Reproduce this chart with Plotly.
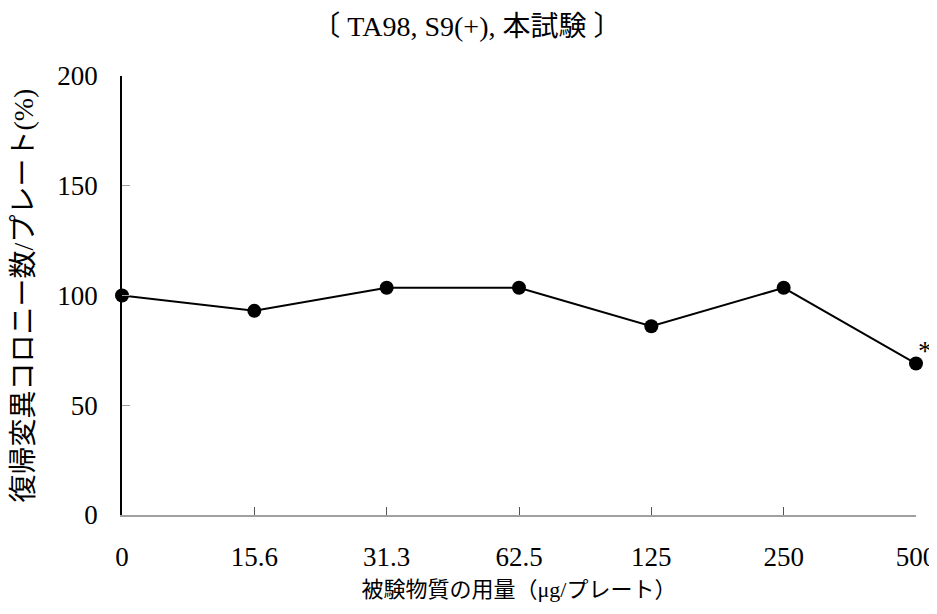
import plotly.graph_objects as go

doses = ["0", "15.6", "31.3", "62.5", "125", "250", "500"]
revertants_pct = [100, 93, 103.5, 103.5, 86, 103.5, 69]
significant = [False, False, False, False, False, False, True]
y_ticks = [0, 50, 100, 150, 200]

FONT = "Liberation Serif, Noto Sans CJK JP, serif"
xpos = list(range(len(doses)))

fig = go.Figure()
fig.add_trace(go.Scatter(
    x=xpos, y=revertants_pct, mode="lines+markers",
    line=dict(color="black", width=2),
    marker=dict(color="black", size=14),
    cliponaxis=False, showlegend=False,
))

for xi, v, s in zip(xpos, revertants_pct, significant):
    if s:
        fig.add_annotation(x=xi, y=v, text="*", showarrow=False,
                           xshift=9, yshift=13,
                           font=dict(family=FONT, size=28, color="black"))

# the page body has an 8px margin; size the figure so it fits without scrollbars
fig.update_layout(
    width=929, height=598,
    margin=dict(l=114, r=21, t=68, b=91),
    paper_bgcolor="white", plot_bgcolor="white",
    font=dict(family=FONT, size=27, color="black"),
    title=dict(text="〔 TA98, S9(+), 本試験 〕", x=0.494, xanchor="center",
               y=0.970, yanchor="middle", font=dict(size=28)),
)
fig.update_xaxes(
    range=[0, len(doses) - 1], tickvals=xpos, ticktext=doses, showgrid=False,
    showline=True, linecolor="#a0a0a0", linewidth=2,
    ticks="inside", ticklen=8, tickcolor="#555555", tickwidth=1,
    ticklabelstandoff=17, automargin=False, ticklabeloverflow="allow",
    title=dict(text="被験物質の用量（μg/プレート）", standoff=10, font=dict(size=22)),
    zeroline=False,
)
fig.update_yaxes(
    range=[0, 200], tickvals=y_ticks, showgrid=False,
    showline=True, linecolor="black", linewidth=1.5,
    ticks="inside", ticklen=8, tickcolor="#a0a0a0", tickwidth=1,
    ticklabelstandoff=17, automargin=False,
    title=dict(text="復帰変異コロニー数/プレート(%)", standoff=18, font=dict(size=28)),
    zeroline=False,
)

fig.write_html("out.html")
